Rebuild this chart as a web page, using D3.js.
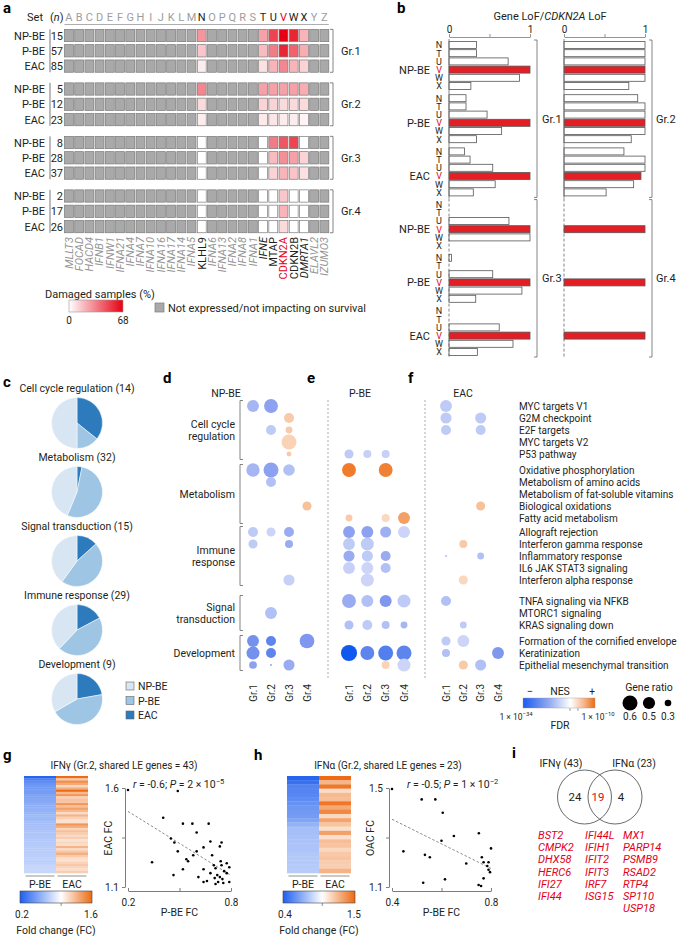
<!DOCTYPE html>
<html><head><meta charset="utf-8">
<script src="https://cdn.jsdelivr.net/npm/d3@7/dist/d3.min.js"></script>
<style>
html,body{margin:0;padding:0;background:#fff;}
svg text{font-family:Roboto,"Liberation Sans",Arial,sans-serif;}
</style></head>
<body>
<svg id="fig" width="688" height="936" viewBox="0 0 688 936"></svg>
<script>
// ================= DATA =================
// Panel a
const setLetters = "ABCDEFGHIJKLMNOPQRSTUVWXYZ".split("");
const setGenes = ["MLLT3","FOCAD","HACD4","IFNB1","IFNW1","IFNA21","IFNA4","IFNA7","IFNA10","IFNA16","IFNA17","IFNA14","IFNA5","KLHL9","IFNA6","IFNA13","IFNA2","IFNA8","IFNA1","IFNE","MTAP","CDKN2A","CDKN2B","DMRTA1","ELAVL2","IZUMO3"];
const cohorts = ["NP-BE","P-BE","EAC"];
const groups = ["Gr.1","Gr.2","Gr.3","Gr.4"];
const sampleSizes = [[15,57,85],[5,12,23],[8,28,37],[2,17,26]];
const expressedSets = ["N","T","U","V","W","X"];
const damagedPct = [
  [[28,25,50,68,58,20],[15,18,35,58,42,22],[5,8,20,32,20,12]],
  [[32,25,25,25,25,22],[10,12,12,10,10,10],[5,6,7,5,5,3]],
  [[0,0,35,45,50,0],[0,0,18,30,25,12],[0,0,12,20,16,8]],
  [[0,0,0,15,0,0],[0,0,0,20,0,0],[0,0,0,10,0,0]]
];
// Panel b
const lofLetters = ["N","T","U","V","W","X"];
const lofGr1 = [[0.34,0.34,0.73,1,0.87,0.27],[0.21,0.21,0.47,1,0.65,0.34],[0.19,0.26,0.54,1,0.57,0.30]];
const lofGr2 = [[1,1,1,1,1,0.8],[0.91,1,1,1,1,0.83],[0.74,1,1,0.95,0.86,0.52]];
const lofGr3 = [[0,0,0.74,1,1,0],[0.03,0,0.54,1,0.9,0.33],[0,0,0.62,1,0.79,0.35]];
const lofGr4 = [[0,0,0,1,0,0],[0,0,0,1,0,0],[0,0,0,1,0,0]];
// Panel c
const pieCategories = ["Cell cycle regulation","Metabolism","Signal transduction","Immune response","Development"];
const pieTotals = [14,32,15,29,9];
const pieNPBE = [7,14,6,11,3];
const piePBE = [2,17,7,13,4];
const pieEAC = [5,1,2,5,2];
// Panels d-f
const pathways = ["MYC targets V1","G2M checkpoint","E2F targets","MYC targets V2","P53 pathway","Oxidative phosphorylation","Metabolism of amino acids","Metabolism of fat-soluble vitamins","Biological oxidations","Fatty acid metabolism","Allograft rejection","Interferon gamma response","Inflammatory response","IL6 JAK STAT3 signaling","Interferon alpha response","TNFA signaling via NFKB","MTORC1 signaling","KRAS signaling down","Formation of the cornified envelope","Keratinization","Epithelial mesenchymal transition"];
const categoryLabels = [["Cell cycle","regulation"],["Metabolism"],["Immune","response"],["Signal","transduction"],["Development"]];
const categorySizes = [5,5,5,3,3];
// [pathway index, group index, signed NES score (-1..1), gene ratio]
const dotsNPBE = [[0,0,-0.35,0.49],[0,1,-0.45,0.56],[1,2,0.3,0.42],[2,1,-0.25,0.42],[2,2,0.3,0.31],[3,2,0.25,0.6],[4,2,0.3,0.24],
  [5,0,-0.35,0.54],[5,1,-0.45,0.6],[5,2,-0.3,0.48],[6,1,-0.3,0.42],[8,3,0.35,0.39],
  [10,0,-0.25,0.42],[10,1,-0.2,0.39],[10,2,-0.4,0.42],[11,0,-0.25,0.39],[11,2,-0.4,0.35],[14,2,-0.22,0.46],
  [16,1,-0.3,0.49],[18,0,-0.55,0.49],[18,1,-0.65,0.42],[18,3,-0.5,0.59],[19,0,-0.55,0.53],[19,1,-0.65,0.42],
  [20,0,-0.45,0.34],[20,1,-0.4,0.14],[20,2,-0.4,0.46]];
const dotsPBE = [[4,0,-0.25,0.39],[4,1,-0.22,0.35],[4,2,-0.22,0.35],[5,0,0.85,0.56],[5,2,0.8,0.56],
  [9,0,0.3,0.31],[9,2,0.22,0.35],[9,3,0.55,0.49],
  [10,0,-0.45,0.49],[10,1,-0.45,0.49],[10,2,-0.38,0.46],[10,3,-0.2,0.49],[11,0,-0.25,0.49],[11,1,-0.25,0.53],
  [12,0,-0.4,0.46],[12,1,-0.25,0.46],[12,2,-0.4,0.42],[13,0,-0.22,0.49],[13,1,-0.2,0.49],[13,2,-0.3,0.42],[14,1,-0.2,0.53],
  [15,0,-0.4,0.56],[15,1,-0.3,0.49],[15,2,-0.5,0.49],[15,3,-0.25,0.53],
  [17,0,-0.3,0.39],[17,1,-0.25,0.42],[17,2,-0.3,0.35],[17,3,-0.35,0.31],
  [19,0,-1,0.64],[19,1,-0.65,0.56],[19,2,-0.7,0.6],[19,3,-0.65,0.6],[20,2,0.25,0.35],[20,3,-0.2,0.53]];
const dotsEAC = [[0,0,-0.25,0.49],[1,0,-0.25,0.46],[1,2,-0.25,0.46],[2,0,-0.25,0.42],[2,2,-0.25,0.42],
  [8,2,0.35,0.39],[11,1,0.3,0.35],[12,0,-0.3,0.14],[12,2,-0.3,0.31],[14,1,0.22,0.39],
  [15,0,-0.3,0.42],[17,1,-0.25,0.31],[18,0,-0.25,0.39],[18,1,-0.2,0.49],[19,0,-0.3,0.35],[19,3,-0.5,0.49],
  [20,1,0.3,0.39],[20,2,-0.3,0.46]];
// Panel g (IFNγ, 43 shared LE genes): P-BE FC vs EAC FC
const ifngPBE = [0.20,0.49,0.405,0.52,0.575,0.67,0.60,0.45,0.47,0.68,0.745,0.64,0.735,0.49,0.60,0.34,0.54,0.55,0.52,0.465,0.61,0.64,0.68,0.70,0.71,0.745,0.775,0.64,0.705,0.725,0.71,0.735,0.75,0.775,0.79,0.755,0.76,0.72,0.79,0.66,0.58,0.74,0.69];
const ifngEAC = [1.59,1.585,1.45,1.42,1.42,1.42,1.375,1.345,1.325,1.33,1.325,1.30,1.305,1.28,1.28,1.225,1.24,1.23,1.19,1.16,1.15,1.19,1.17,1.21,1.195,1.21,1.22,1.125,1.145,1.125,1.115,1.15,1.14,1.17,1.125,1.12,1.18,1.16,1.20,1.13,1.26,1.23,1.26];
// Panel h (IFNα, 23 shared LE genes)
const ifnaPBE = [0.40,0.52,0.575,0.605,0.60,0.65,0.446,0.533,0.553,0.526,0.614,0.751,0.80,0.70,0.763,0.77,0.79,0.79,0.796,0.77,0.75,0.76,0.785];
const ifnaOAC = [1.496,1.454,1.454,1.40,1.287,1.306,1.244,1.23,1.22,1.117,1.131,1.317,1.256,1.195,1.22,1.20,1.20,1.17,1.16,1.135,1.108,1.104,1.185];
// Panel i
const vennSets = ["IFNγ (43)","IFNα (23)"];
const vennCounts = [24,19,4];
const sharedGenes = ["BST2","CMPK2","DHX58","HERC6","IFI27","IFI44","IFI44L","IFIH1","IFIT2","IFIT3","IRF7","ISG15","MX1","PARP14","PSMB9","RSAD2","RTP4","SP110","USP18"];

// ================= DRAWING =================
const svg = d3.select("#fig");
const INK = "#231f20", RED = "#e3001b";
const defs = svg.append("defs");
function T(g,x,y,s,o={}){
  const t = g.append("text").attr("x",x).attr("y",y).text(s)
    .attr("font-size",o.size||10).attr("text-anchor",o.anchor||"start").attr("fill",o.fill||INK);
  if(o.weight) t.attr("font-weight",o.weight);
  if(o.italic) t.attr("font-style","italic");
  if(o.rotate!=null) t.attr("transform",`rotate(${o.rotate},${x},${y})`);
  return t;
}
function letter(x,y,l){ T(svg,x,y,l,{size:15,weight:700,fill:"#000"}); }
function grad(id, stops){
  const lg = defs.append("linearGradient").attr("id",id);
  stops.forEach(([o,c])=>lg.append("stop").attr("offset",o).attr("stop-color",c));
}

// ---------- Panel a ----------
const gA = svg.append("g");
letter(3,13,"a");
const aX = d3.scaleBand().domain(setLetters).range([64.5,328.8]).paddingInner(0.13);
const aBW = aX.bandwidth();
const aGroupY = d3.scaleLinear().domain([0,groups.length-1]).range([35.5,196]);
const aRow = 15.3, aCellH = 12.3;
const damageColor = d3.scaleLinear().domain([0,68]).range(["#ffffff","#e60012"]);
T(gA,43,21,"Set",{size:11,anchor:"end"});
const nt = T(gA,50,21,"(",{size:11}); nt.append("tspan").attr("font-style","italic").text("n"); nt.append("tspan").text(")");
setLetters.forEach(l=>{
  const hi = expressedSets.includes(l);
  T(gA,aX(l)+aBW/2,21,l,{size:11,anchor:"middle",fill:l==="V"?RED:(hi?INK:"#9d9d9d")});
});
gA.append("line").attr("x1",aX("A")).attr("x2",aX("Z")+aBW).attr("y1",24.5).attr("y2",24.5).attr("stroke","#999").attr("stroke-width",0.8);
groups.forEach((gr,gi)=>{
  const y0 = aGroupY(gi);
  cohorts.forEach((co,ci)=>{
    const yc = y0+ci*aRow;
    T(gA,45,yc+4,co,{size:11,anchor:"end"});
    T(gA,63,yc+4,sampleSizes[gi][ci],{size:11,anchor:"end"});
    setLetters.forEach(l=>{
      const k = expressedSets.indexOf(l);
      const fill = k<0 ? "#a9a9a9" : damageColor(damagedPct[gi][ci][k]);
      gA.append("rect").attr("x",aX(l)).attr("y",yc-aCellH/2).attr("width",aBW).attr("height",aCellH)
        .attr("fill",fill).attr("stroke","#7b7b7b").attr("stroke-width",0.7);
    });
  });
  const top = y0-aCellH/2, bot = y0+2*aRow+aCellH/2;
  gA.append("line").attr("x1",50).attr("x2",50).attr("y1",top).attr("y2",bot).attr("stroke","#555").attr("stroke-width",0.8);
  gA.append("path").attr("d",`M330,${top}H333V${bot}H330`).attr("fill","none").attr("stroke","#666").attr("stroke-width",0.8);
  T(gA,341,(top+bot)/2+4,gr,{size:11});
});
const geneStyle = {KLHL9:[INK,false],IFNE:[INK,true],MTAP:[INK,false],CDKN2A:[RED,false],CDKN2B:[INK,false],DMRTA1:[INK,true]};
setLetters.forEach((l,i)=>{
  const g = setGenes[i]; const st = geneStyle[g] || ["#959595",true];
  T(gA,aX(l)+aBW/2+3.8,237,g,{size:11,anchor:"end",fill:st[0],italic:st[1],rotate:-90});
});
grad("gradA",[[0,"#ffffff"],[1,"#e60012"]]);
T(gA,45,298,"Damaged samples (%)",{size:11});
gA.append("rect").attr("x",69).attr("y",300).attr("width",54).attr("height",12).attr("fill","url(#gradA)").attr("stroke","#999").attr("stroke-width",0.6);
T(gA,69,324,"0",{size:10,anchor:"middle"});
T(gA,123,324,"68",{size:10,anchor:"middle"});
gA.append("rect").attr("x",155).attr("y",303).attr("width",9).attr("height",9).attr("fill","#a9a9a9").attr("stroke","#7b7b7b").attr("stroke-width",0.7);
T(gA,168,312,"Not expressed/not impacting on survival",{size:11});

// ---------- Panel b ----------
const gB = svg.append("g");
letter(397,13,"b");
const tt = T(gB,550,20,"Gene LoF/",{size:11,anchor:"middle"});
tt.append("tspan").attr("font-style","italic").text("CDKN2A"); tt.append("tspan").text(" LoF");
const bXL = d3.scaleLinear().domain([0,1]).range([449,530]);
const bXR = d3.scaleLinear().domain([0,1]).range([564,645]);
[bXL,bXR].forEach(sc=>{
  const ax = gB.append("g").attr("transform","translate(0,37)")
    .call(d3.axisTop(sc).tickValues([0,0.5,1]).tickFormat(d=>d===0.5?"":d3.format("d")(d)).tickSize(3).tickSizeOuter(0).tickPadding(1.5));
  ax.select(".domain").attr("stroke","#666").attr("stroke-width",0.7);
  ax.selectAll("line").attr("stroke","#666").attr("stroke-width",0.7);
  ax.selectAll("text").attr("font-size",10).attr("fill",INK).attr("font-family","Roboto, sans-serif");
});
const bBlock = d3.scaleLinear().domain([0,5]).range([45,311]);
const bRow = 8.2, bBarH = 7;
const bPanels = [[bXL,lofGr1,0],[bXR,lofGr2,0],[bXL,lofGr3,3],[bXR,lofGr4,3]];
bPanels.forEach(([sc,data,off])=>{
  data.forEach((vals,ci)=>{
    const base = bBlock(off+ci);
    vals.forEach((v,ri)=>{
      if(v<=0) return;
      gB.append("rect").attr("x",sc(0)).attr("y",base+ri*bRow-bBarH/2).attr("width",sc(v)-sc(0)).attr("height",bBarH)
        .attr("fill",lofLetters[ri]==="V"?"#e31e24":"#fff").attr("stroke","#555").attr("stroke-width",0.8);
    });
  });
});
for(let k=0;k<6;k++){
  const base = bBlock(k);
  lofLetters.forEach((l,ri)=>T(gB,439,base+ri*bRow+3.3,l,{size:9,anchor:"middle",fill:l==="V"?RED:INK}));
  T(gB,430,base+3*bRow+4,cohorts[k%3],{size:11,anchor:"end"});
}
[[0,"Gr.1","Gr.2",false],[3,"Gr.3","Gr.4",true]].forEach(([off,l1,l2,dash])=>{
  const top = bBlock(off)-5, bot = bBlock(off+2)+5*bRow+5;
  [bXL,bXR].forEach(sc=>{
    gB.append("line").attr("x1",sc(0)).attr("x2",sc(0)).attr("y1",top-1).attr("y2",bot+1).attr("stroke","#666").attr("stroke-width",0.8)
      .attr("stroke-dasharray",dash?"3,2":null);
  });
  [[537,l1,542],[652,l2,656]].forEach(([x,lab,lx])=>{
    gB.append("path").attr("d",`M${x-3},${top}H${x}V${bot}H${x-3}`).attr("fill","none").attr("stroke","#666").attr("stroke-width",0.8);
    T(gB,lx,(top+bot)/2+4,lab,{size:11});
  });
});

// ---------- Panel c ----------
const gC = svg.append("g");
letter(3,387,"c");
const pieColors = {EAC:"#2d7bbd","P-BE":"#9ec5e3","NP-BE":"#d8e6f3"};
const pieY = d3.scaleLinear().domain([0,4]).range([423,699]);
const arc = d3.arc().innerRadius(0).outerRadius(25.5);
const pie = d3.pie().sort(null).value(d=>d.v);
pieCategories.forEach((cat,i)=>{
  const cy = pieY(i);
  T(gC,77,cy-31,`${cat} (${pieTotals[i]})`,{size:10.5,anchor:"middle"});
  const slices = pie([{k:"EAC",v:pieEAC[i]},{k:"P-BE",v:piePBE[i]},{k:"NP-BE",v:pieNPBE[i]}]);
  gC.append("g").attr("transform",`translate(77,${cy})`).selectAll("path").data(slices).join("path")
    .attr("d",arc).attr("fill",d=>pieColors[d.data.k]).attr("stroke","#fff").attr("stroke-width",0.5);
});
["NP-BE","P-BE","EAC"].forEach((k,i)=>{
  gC.append("rect").attr("x",126).attr("y",682+i*14.5).attr("width",8).attr("height",8).attr("fill",pieColors[k]).attr("stroke","#666").attr("stroke-width",0.6);
  T(gC,138,690+i*14.5,k,{size:10.5});
});

// ---------- Panels d-f ----------
const gD = svg.append("g");
const catOffset = [0,4,6,15,19];
const rowCat = []; categorySizes.forEach((n,c)=>{for(let j=0;j<n;j++) rowCat.push(c);});
const rowY = i => 406 + i*12 + catOffset[rowCat[i]];
const rScale = d3.scaleLinear().domain([0.1,0.6]).range([0.5,7.5]);
const nesColor = d3.scaleLinear().domain([-1,-0.5,0,0.5,1]).range(["#1158ef","#7f97ee","#ffffff","#f4a66f","#ee690d"]);
pathways.forEach((p,i)=>T(gD,519,rowY(i)+3.6,p,{size:10}));
let start=0;
categoryLabels.forEach((lines,c)=>{
  const n = categorySizes[c];
  const top = rowY(start)-5.5, bot = rowY(start+n-1)+5.5;
  gD.append("path").attr("d",`M243,${top}H240V${bot}H243`).attr("fill","none").attr("stroke","#666").attr("stroke-width",0.8);
  const mid = (top+bot)/2;
  lines.forEach((ln,j)=>T(gD,235,mid+4+(j-(lines.length-1)/2)*12.5,ln,{size:10.5,anchor:"end"}));
  start += n;
});
const dotPanels = [
  {letter:"d",lx:163,header:"NP-BE",hx:226,range:[253,307],dots:dotsNPBE},
  {letter:"e",lx:307,header:"P-BE",hx:360,range:[349,404],dots:dotsPBE},
  {letter:"f",lx:408,header:"EAC",hx:463,range:[446,498],dots:dotsEAC}
];
dotPanels.forEach(P=>{
  letter(P.lx,383,P.letter);
  T(gD,P.hx,397,P.header,{size:10.5,anchor:"middle"});
  const xs = d3.scalePoint().domain(groups).range(P.range);
  groups.forEach(g=>T(gD,xs(g)+3.6,684,g,{size:10,anchor:"end",rotate:-90}));
  gD.append("g").selectAll("circle").data(P.dots).join("circle")
    .attr("cx",d=>xs(groups[d[1]])).attr("cy",d=>rowY(d[0])).attr("r",d=>rScale(d[3])).attr("fill",d=>nesColor(d[2]));
});
[328,425].forEach(x=>gD.append("line").attr("x1",x).attr("x2",x).attr("y1",400).attr("y2",680).attr("stroke","#888").attr("stroke-width",0.7).attr("stroke-dasharray","2,2"));
// NES legend
grad("gradNES",[[0,"#1a5cf0"],[0.35,"#8ea6f1"],[0.66,"#ffffff"],[0.85,"#f6b489"],[1,"#ef6a10"]]);
T(gD,530,695,"−",{size:11,anchor:"middle"});
T(gD,560,695,"NES",{size:10.5,anchor:"middle"});
T(gD,592,695,"+",{size:10,anchor:"middle"});
gD.append("rect").attr("x",523).attr("y",698).attr("width",72).attr("height",10).attr("fill","url(#gradNES)").attr("stroke","#999").attr("stroke-width",0.4);
[570,578].forEach(x=>gD.append("line").attr("x1",x).attr("x2",x).attr("y1",708).attr("y2",711).attr("stroke","#666").attr("stroke-width",0.6));
function sci(g,x,y,base,exp,size,anchor){
  const t = T(g,x,y,base,{size:size,anchor:anchor});
  t.append("tspan").attr("dy",-4).attr("font-size",size*0.7).text(exp);
  return t;
}
sci(gD,516,720,"1 × 10","−34",8.5,"middle");
sci(gD,598,720,"1 × 10","−10",8.5,"middle");
T(gD,560,729,"FDR",{size:10.5,anchor:"middle"});
T(gD,649,691,"Gene ratio",{size:10.5,anchor:"middle"});
const legRatios = [0.6,0.5,0.3];
const legX = d3.scalePoint().domain(legRatios).range([630,668]);
legRatios.forEach(r=>{
  gD.append("circle").attr("cx",legX(r)).attr("cy",703).attr("r",rScale(r)).attr("fill","#000");
  T(gD,legX(r),720,r.toFixed(1),{size:10,anchor:"middle"});
});

// ---------- Panels g, h ----------
function ols(xs,ys){const mx=d3.mean(xs),my=d3.mean(ys);let sxy=0,sxx=0;xs.forEach((x,i)=>{sxy+=(x-mx)*(ys[i]-my);sxx+=(x-mx)*(x-mx);});const b=sxy/sxx;return [b,my-b*mx];}
function fcPanel(cfg){
  const g = svg.append("g");
  letter(cfg.lx,760,cfg.letter);
  T(g,cfg.tx,769,cfg.title,{size:10,anchor:"middle"});
  // heatmap
  const order = d3.range(cfg.xv.length).sort((a,b)=>cfg.xv[a]-cfg.xv[b]);
  const hy = d3.scaleBand().domain(order).range([776,873]);
  const col = d3.scaleLinear().domain(cfg.cdom).range(["#2765ee","#ffffff","#ec6a12"]);
  const hx = d3.scaleBand().domain(["P-BE","EAC"]).range(cfg.hrange);
  order.forEach(i=>{
    g.append("rect").attr("x",hx("P-BE")).attr("y",hy(i)).attr("width",hx.bandwidth()).attr("height",hy.bandwidth()+0.3).attr("fill",col(cfg.xv[i]));
    g.append("rect").attr("x",hx("EAC")).attr("y",hy(i)).attr("width",hx.bandwidth()).attr("height",hy.bandwidth()+0.3).attr("fill",col(cfg.yv[i]));
  });
  ["P-BE","EAC"].forEach(k=>{
    g.append("line").attr("x1",hx(k)+1.5).attr("x2",hx(k)+hx.bandwidth()-1.5).attr("y1",876).attr("y2",876).attr("stroke","#666").attr("stroke-width",0.7);
    T(g,hx(k)+hx.bandwidth()/2,888,k,{size:10.5,anchor:"middle"});
  });
  // colorbar
  const gid = "grad"+cfg.letter;
  const cb = d3.scaleLinear().domain([cfg.cdom[0],cfg.cdom[2]]).range(cfg.cbrange);
  const frac = (cfg.cdom[1]-cfg.cdom[0])/(cfg.cdom[2]-cfg.cdom[0]);
  grad(gid,[[0,"#1f5fef"],[frac,"#ffffff"],[1,"#ec6a12"]]);
  g.append("rect").attr("x",cfg.cbrange[0]).attr("y",891).attr("width",cfg.cbrange[1]-cfg.cbrange[0]).attr("height",12).attr("fill",`url(#${gid})`).attr("stroke","#444").attr("stroke-width",0.6);
  g.append("line").attr("x1",cb(cfg.cdom[1])).attr("x2",cb(cfg.cdom[1])).attr("y1",903).attr("y2",906).attr("stroke","#444").attr("stroke-width",0.6);
  T(g,cfg.cbrange[0]+2,918,String(cfg.cdom[0]),{size:10,anchor:"middle"});
  T(g,cfg.cbrange[1]-1,918,String(cfg.cdom[2]),{size:10,anchor:"middle"});
  T(g,(cfg.cbrange[0]+cfg.cbrange[1])/2,934,"Fold change (FC)",{size:10.5,anchor:"middle"});
  // scatter
  const sx = d3.scaleLinear().domain(cfg.xdom).range(cfg.sxr);
  const sy = d3.scaleLinear().domain(cfg.ydom).range([887,788]);
  const ya = g.append("g").attr("transform",`translate(${cfg.sxr[0]-3},0)`)
    .call(d3.axisLeft(sy).tickValues([cfg.ydom[0],(cfg.ydom[0]+cfg.ydom[1])/2,cfg.ydom[1]]).tickFormat((d,i)=>i===1?"":d3.format(".1f")(d)).tickSize(3).tickSizeOuter(0));
  const xa = g.append("g").attr("transform","translate(0,891)")
    .call(d3.axisBottom(sx).tickValues([cfg.xdom[0],(cfg.xdom[0]+cfg.xdom[1])/2,cfg.xdom[1]]).tickFormat((d,i)=>i===1?"":d3.format(".1f")(d)).tickSizeInner(-3).tickSizeOuter(0).tickPadding(8));
  [ya,xa].forEach(a=>{a.selectAll("path,line").attr("stroke","#444").attr("stroke-width",0.7);a.selectAll("text").attr("font-size",10).attr("fill",INK).attr("font-family","Roboto, sans-serif");});
  T(g,cfg.ylx,838,cfg.ylab,{size:10.5,anchor:"middle",rotate:-90});
  T(g,(cfg.sxr[0]+cfg.sxr[1])/2,916,"P-BE FC",{size:10.5,anchor:"middle"});
  const [b,a] = ols(cfg.xv,cfg.yv);
  g.append("line").attr("x1",sx(cfg.xdom[0])).attr("x2",sx(cfg.xdom[1])).attr("y1",sy(a+b*cfg.xdom[0])).attr("y2",sy(a+b*cfg.xdom[1]))
    .attr("stroke","#555").attr("stroke-width",0.7).attr("stroke-dasharray","2.5,2");
  g.selectAll("circle.pt").data(cfg.xv).join("circle").attr("class","pt").attr("cx",d=>sx(d)).attr("cy",(d,i)=>sy(cfg.yv[i])).attr("r",1.3).attr("fill","#000");
  const an = T(g,cfg.ax,788,"",{size:10.5});
  an.append("tspan").attr("font-style","italic").text("r");
  an.append("tspan").text(` = ${cfg.r}; `);
  an.append("tspan").attr("font-style","italic").text("P");
  an.append("tspan").text(` = ${cfg.pBase} × 10`);
  an.append("tspan").attr("dy",-4).attr("font-size",7.5).text(cfg.pExp);
}
fcPanel({letter:"g",lx:3,title:"IFNγ (Gr.2, shared LE genes = 43)",tx:124,xv:ifngPBE,yv:ifngEAC,cdom:[0.2,1.0,1.6],hrange:[24,88],cbrange:[20,92],
  xdom:[0.2,0.8],ydom:[1.1,1.6],sxr:[128,231],ylab:"EAC FC",ylx:112,ax:133,r:"-0.6",pBase:"2",pExp:"−5"});
fcPanel({letter:"h",lx:254,title:"IFNα (Gr.2, shared LE genes = 23)",tx:388,xv:ifnaPBE,yv:ifnaOAC,cdom:[0.4,1.0,1.5],hrange:[287,351],cbrange:[283,355],
  xdom:[0.4,0.8],ydom:[1.1,1.5],sxr:[392,491],ylab:"OAC FC",ylx:374,ax:407,r:"-0.5",pBase:"1",pExp:"−2"});

// ---------- Panel i ----------
const gI = svg.append("g");
letter(512,758,"i");
const vx = d3.scalePoint().domain(vennSets).range([584.5,615]);
vennSets.forEach((s,i)=>{
  gI.append("circle").attr("cx",vx(s)).attr("cy",797).attr("r",27).attr("fill","none").attr("stroke","#444").attr("stroke-width",0.8);
  T(gI,[561,634][i],767,s,{size:10.5,anchor:"middle"});
});
const vnx = d3.scalePoint().domain([0,1,2]).range([575,621]);
vennCounts.forEach((c,i)=>T(gI,vnx(i),801,c,{size:11.5,anchor:"middle",fill:i===1?RED:INK}));
const colStart = [0,6,12];
sharedGenes.forEach((gname,i)=>{
  const c = i<6?0:(i<12?1:2); const r = i-colStart[c];
  const x = [538,585,623][c];
  T(gI,x,839+r*12.2,gname,{size:11,italic:true,fill:RED});
});
</script>
</body></html>
